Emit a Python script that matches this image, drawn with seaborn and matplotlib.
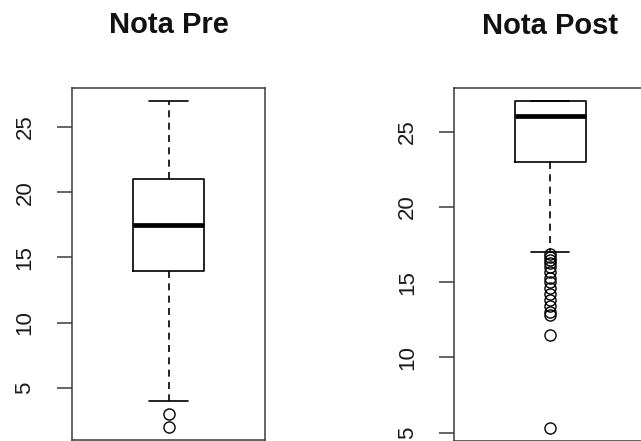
import numpy as np
import matplotlib
matplotlib.use("Agg")
import matplotlib.pyplot as plt
import seaborn as sns

# ---- data ----
titles = ["Nota Pre", "Nota Post"]
nota_pre = [2, 3, 4, 14, 15, 16, 17.5, 19, 20, 21, 24, 26, 27]
post_values = [5.3, 11.5, 12.8, 13.0, 13.4, 13.8, 14.2, 14.6, 15.0, 15.3,
               15.7, 16.0, 16.3, 16.5, 16.7, 16.9, 17, 19, 21,
               23, 24, 25, 26, 27]
post_counts = [1, 1, 1, 1, 1, 1, 1, 1, 1, 1,
               1, 1, 1, 1, 1, 1, 1, 1, 1,
               6, 6, 7, 8, 35]
yticks = [5, 10, 15, 20, 25]

nota_post = np.repeat(post_values, post_counts)

sns.set_style("white")
plt.rcParams["font.family"] = ["Liberation Sans", "DejaVu Sans"]

W, H = 641, 441
fig = plt.figure(figsize=(W / 100, H / 100), dpi=100)

def fx(px):
    return px / W

def fy(px_from_top):
    return 1 - px_from_top / H

# axes rectangles in pixels: left, top, right, bottom
rects = [(72, 88, 265, 440), (454.3, 88.3, 646.1, 441.3)]
ylims = [(1.0, 28.0), (4.43, 27.87)]
datasets = [nota_pre, nota_post]

frame_col = "#3a3a3a"
for rect, ylim, data, title in zip(rects, ylims, datasets, titles):
    l, t, r, b = rect
    ax = fig.add_axes([fx(l), fy(b), fx(r - l), (b - t) / H])
    sns.boxplot(
        y=data, ax=ax, width=0.37, fill=False, color="black",
        linewidth=1.2, fliersize=8, whis=1.5,
        whiskerprops=dict(linestyle=(0, (4.2, 3.2)), color="black"),
        medianprops=dict(linewidth=3.4, color="black"),
        boxprops=dict(color="black"),
        capprops=dict(color="black"),
        flierprops=dict(marker="o", markerfacecolor="none",
                        markeredgecolor="black", markeredgewidth=1.0),
        capwidths=0.2,
    )
    ax.set_xlim(-0.5, 0.5)
    ax.set_ylim(*ylim)
    ax.set_xticks([])
    ax.set_xlabel("")
    ax.set_ylabel("")
    ax.set_yticks(yticks)
    ax.set_yticklabels([str(v) for v in yticks])
    ax.tick_params(axis="y", which="major", left=True, length=10.5,
                   width=1.1, color=frame_col, pad=15.8, labelsize=16,
                   labelcolor="#1a1a1a")
    for lab in ax.get_yticklabels():
        lab.set_rotation(90)
        lab.set_va("center")
        lab.set_ha("right")
    for sp in ax.spines.values():
        sp.set_visible(True)
        sp.set_color(frame_col)
        sp.set_linewidth(1.1)
    ax.set_title(title, fontsize=21, fontweight="bold", pad=39.4,
                 color="#111111")

fig.savefig("out.png", dpi=100, facecolor="white")
